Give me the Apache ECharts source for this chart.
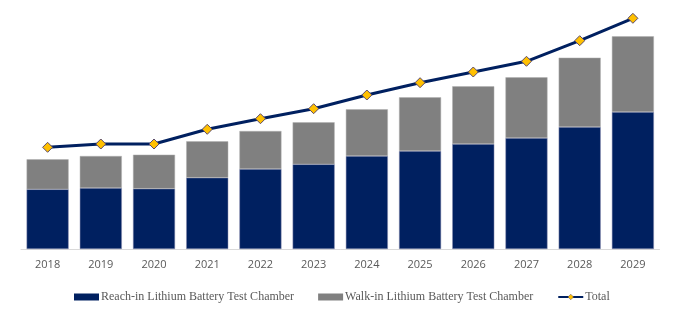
<!DOCTYPE html>
<html><head><meta charset="utf-8">
<script src="https://cdn.jsdelivr.net/npm/echarts@6/dist/echarts.min.js"></script>
<style>html,body{margin:0;padding:0;background:#fff}#c{width:683px;height:322px}</style>
</head><body><div id="c"></div>
<script>
const years = ['2018','2019','2020','2021','2022','2023','2024','2025','2026','2027','2028','2029'];
const reachIn = [59.7, 61, 60.3, 71.3, 80, 84.7, 93, 98, 105, 111, 122, 137];
const walkIn = [30, 32, 34, 36.4, 38, 42, 46.7, 53.7, 57.7, 60.7, 69.3, 75.7];
const total = [101.7, 105, 105, 119.7, 130.3, 140.3, 154, 166.3, 177, 187.7, 208.3, 230.7];

const chart = echarts.init(document.getElementById('c'));
const serif = "'Liberation Serif', 'Times New Roman', serif";
chart.setOption({
  animation: false,
  grid: {left: 21, right: 23.5, top: 9, bottom: 73},
  legend: {
    left: 69, top: 286, itemGap: 24, itemWidth: 25, itemHeight: 7,
    textStyle: {fontFamily: serif, fontSize: 12, color: '#595959', padding: [0,0,0,-3]},
    data: [
      {name: 'Reach-in Lithium Battery Test Chamber', icon: 'rect', itemStyle: {borderWidth: 0}},
      {name: 'Walk-in Lithium Battery Test Chamber', icon: 'rect', itemStyle: {borderWidth: 0}},
      {name: 'Total', itemStyle: {color: '#FFC000', borderWidth: 0.5}}
    ]
  },
  xAxis: {
    type: 'category', data: years,
    axisLine: {lineStyle: {color: '#d9d9d9', width: 1}},
    axisTick: {show: false},
    axisLabel: {fontFamily: "'Open Sans', sans-serif", fontSize: 11, color: '#595959', margin: 10}
  },
  yAxis: {type: 'value', min: 0, max: 240, show: false, splitLine: {show: false}},
  series: [
    {name: 'Reach-in Lithium Battery Test Chamber', type: 'bar', stack: 's', data: reachIn,
     barWidth: '79%', itemStyle: {color: '#002060', borderColor: '#8a8fb0', borderWidth: 0.5}},
    {name: 'Walk-in Lithium Battery Test Chamber', type: 'bar', stack: 's', data: walkIn,
     barWidth: '79%', itemStyle: {color: '#808080', borderColor: '#b0b0b0', borderWidth: 0.5}},
    {name: 'Total', type: 'line', data: total, symbol: 'diamond', symbolSize: 10,
     lineStyle: {color: '#002060', width: 3},
     itemStyle: {color: '#FFC000', borderColor: '#5a4a6a', borderWidth: 1}}
  ]
});
</script></body></html>
